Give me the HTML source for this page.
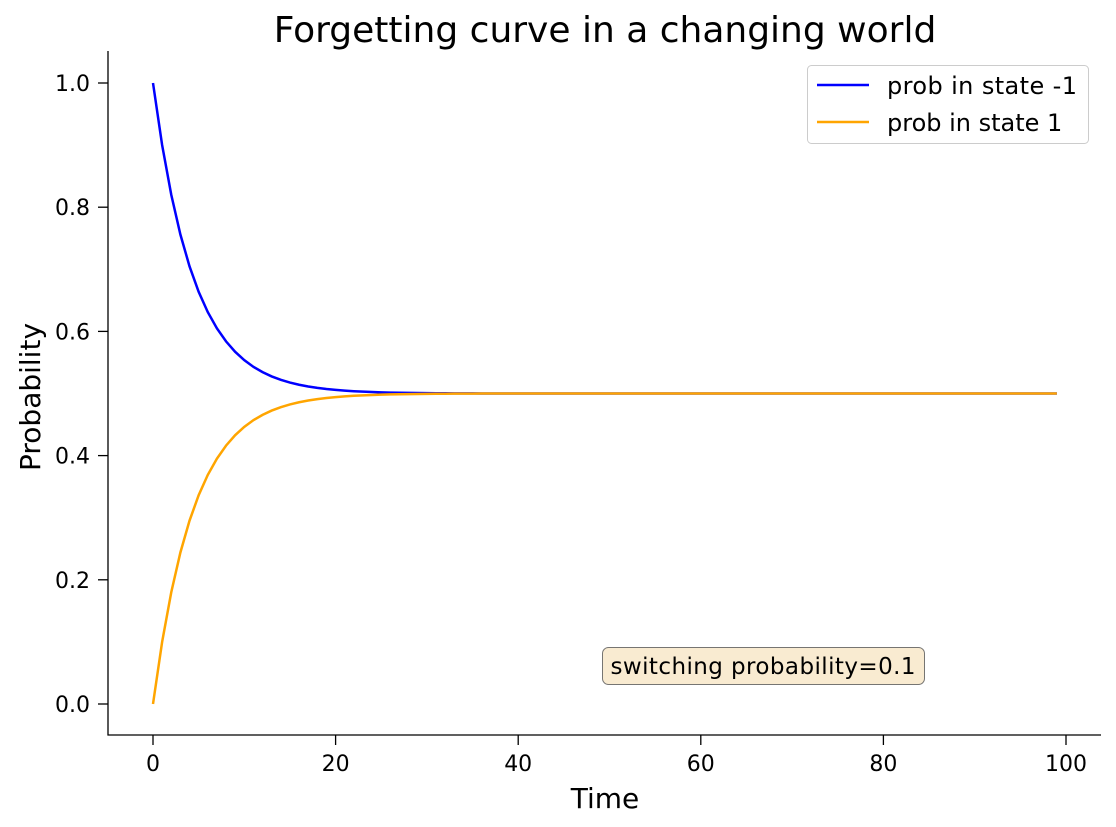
<!DOCTYPE html>
<html><head><meta charset="utf-8">
<style>
body{margin:0;background:#fff;}
svg{display:block;font-family:"DejaVu Sans","Liberation Sans",sans-serif;}
</style></head>
<body>
<svg id="chart" width="1116" height="827">
<text x="605" y="42" text-anchor="middle" font-size="36" fill="#000">Forgetting curve in a changing world</text>
<g id="plot"></g>
<text x="605" y="808" text-anchor="middle" font-size="28">Time</text>
<text transform="translate(40,397) rotate(-90)" text-anchor="middle" font-size="28">Probability</text>
<g>
<rect x="807.5" y="65.5" width="281" height="78" rx="4" fill="#fff" stroke="#ccc"/>
<line x1="817" y1="85" x2="869" y2="85" stroke="blue" stroke-width="2.5"/>
<text x="887" y="94" font-size="24" textLength="190">prob in state -1</text>
<line x1="817" y1="122" x2="869" y2="122" stroke="orange" stroke-width="2.5"/>
<text x="887" y="131" font-size="24">prob in state 1</text>
</g>
<g>
<rect x="602.5" y="647.5" width="322" height="37" rx="6" fill="#f5deb3" fill-opacity="0.6" stroke="#555" stroke-opacity="0.8"/>
<text x="763" y="674" text-anchor="middle" font-size="23" textLength="305">switching probability=0.1</text>
</g>
</svg>
<script>
const probMinus1 = [1,0.9,0.82,0.756,0.7048,0.6638,0.6311,0.6049,0.5839,0.5671,0.5537,0.5429,0.5344,0.5275,0.5220,0.5176,0.5141,0.5113,0.5090,0.5072,0.5058,0.5046,0.5037,0.5030,0.5024,0.5019,0.5015,0.5012,0.5010,0.5008,0.5006,0.5005,0.5004,0.5003,0.5002,0.5002,0.5001,0.5001,0.5001,0.5001,0.5,0.5,0.5,0.5,0.5,0.5,0.5,0.5,0.5,0.5,0.5,0.5,0.5,0.5,0.5,0.5,0.5,0.5,0.5,0.5,0.5,0.5,0.5,0.5,0.5,0.5,0.5,0.5,0.5,0.5,0.5,0.5,0.5,0.5,0.5,0.5,0.5,0.5,0.5,0.5,0.5,0.5,0.5,0.5,0.5,0.5,0.5,0.5,0.5,0.5,0.5,0.5,0.5,0.5,0.5,0.5,0.5,0.5,0.5,0.5];
const probState1 = [0,0.1,0.18,0.244,0.2952,0.3362,0.3689,0.3951,0.4161,0.4329,0.4463,0.4571,0.4656,0.4725,0.4780,0.4824,0.4859,0.4887,0.4910,0.4928,0.4942,0.4954,0.4963,0.4970,0.4976,0.4981,0.4985,0.4988,0.4990,0.4992,0.4994,0.4995,0.4996,0.4997,0.4998,0.4998,0.4999,0.4999,0.4999,0.4999,0.5,0.5,0.5,0.5,0.5,0.5,0.5,0.5,0.5,0.5,0.5,0.5,0.5,0.5,0.5,0.5,0.5,0.5,0.5,0.5,0.5,0.5,0.5,0.5,0.5,0.5,0.5,0.5,0.5,0.5,0.5,0.5,0.5,0.5,0.5,0.5,0.5,0.5,0.5,0.5,0.5,0.5,0.5,0.5,0.5,0.5,0.5,0.5,0.5,0.5,0.5,0.5,0.5,0.5,0.5,0.5,0.5,0.5,0.5,0.5];
const xTicks = [0,20,40,60,80,100];
const yTicks = [0.0,0.2,0.4,0.6,0.8,1.0];
const yTickLabels = ["0.0","0.2","0.4","0.6","0.8","1.0"];

const NS="http://www.w3.org/2000/svg";
const g=document.getElementById('plot');
const X=v=>153+(v)*9.13;
const Y=v=>704-v*621;
function mk(t,a){const e=document.createElementNS(NS,t);for(const k in a)e.setAttribute(k,a[k]);g.appendChild(e);return e;}
let e;
e=mk('line',{x1:108,y1:51,x2:108,y2:735.5,stroke:'#000','stroke-width':1.3});


e=mk('line',{x1:107.5,y1:735,x2:1101,y2:735,stroke:'#000','stroke-width':1.3});


xTicks.forEach(v=>{
 let l=mk('line',{x1:X(v),y1:735,x2:X(v),y2:745,stroke:'#000','stroke-width':1.3});
 
 
 let t=mk('text',{x:X(v),y:771,'text-anchor':'middle','font-size':22});
 t.textContent=String(v);
 
 
});
yTicks.forEach((v,i)=>{
 let l=mk('line',{x1:98,y1:Y(v),x2:108,y2:Y(v),stroke:'#000','stroke-width':1.3});
 
 
 let t=mk('text',{x:90,y:Y(v)+8,'text-anchor':'end','font-size':22});
 t.textContent=yTickLabels[i];
 
 
});
function line(arr,color,name){
 const p=mk('polyline',{points:arr.map((v,i)=>X(i)+','+Y(v)).join(' '),fill:'none',stroke:color,'stroke-width':2.5});
 
 
}
line(probMinus1,'blue','line-state-minus1');
line(probState1,'orange','line-state-1');
</script>
</body></html>
